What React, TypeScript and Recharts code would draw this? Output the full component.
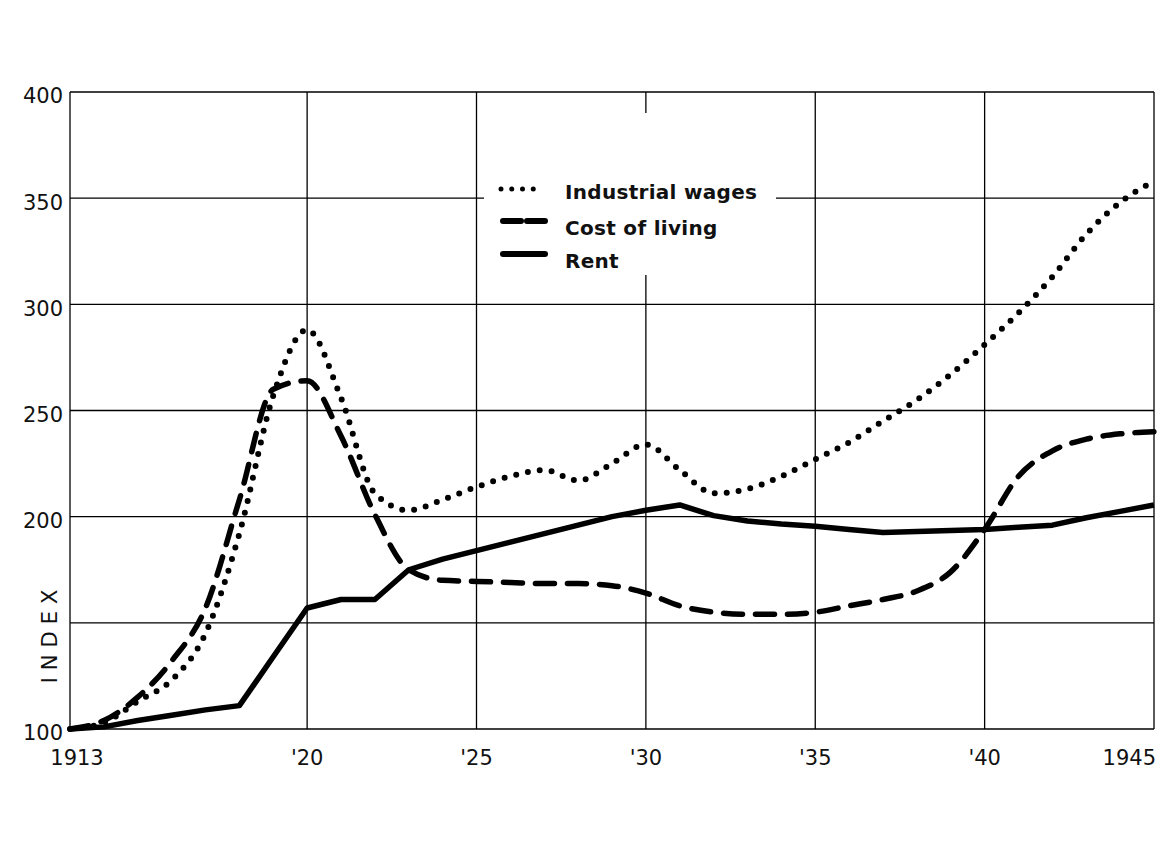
import React from 'react';
import { LineChart, Line, XAxis, YAxis, CartesianGrid, Legend } from 'recharts';

const years = [
  1913, 1914, 1915, 1916, 1917, 1918, 1919, 1920, 1921, 1922, 1923, 1924, 1925, 1926, 1927, 1928, 1929,
  1930, 1931, 1932, 1933, 1934, 1935, 1936, 1937, 1938, 1939, 1940, 1941, 1942, 1943, 1944, 1945,
];

const industrialWages = [
  100, 103, 113, 123, 145, 192, 257, 288, 256, 211, 203, 208, 214, 219, 222, 217, 225,
  234, 222, 211, 213, 219, 227, 235, 245, 255, 267, 281, 296, 313, 333, 348, 358,
];

const costOfLiving = [
  100, 104, 115, 132, 157, 208, 260, 264, 238, 201, 175, 170, 169.5, 169, 168.5, 168.5, 167.5,
  164, 158, 155, 154, 154, 155, 158, 161, 165, 174, 194, 219, 231, 236.5, 239, 240,
];

const rent = [
  100, 101, 104, 106.5, 109, 111, 134, 157, 161, 161, 175, 180, 184, 188, 192, 196, 200,
  203, 205.5, 200.5, 198, 196.5, 195.5, 194, 192.5, 193, 193.5, 194, 195, 196, 199.5, 202.5, 205.5,
];

const xTicks = [1913, 1920, 1925, 1930, 1935, 1940, 1945];
const xTickLabels = ['1913', "'20", "'25", "'30", "'35", "'40", '1945'];
const yTicks = [100, 150, 200, 250, 300, 350, 400];
// the 150 line carries no number, the axis title sits there instead
const yTickLabels = ['100', '', '200', '250', '300', '350', '400'];

const seriesNames = ['Industrial wages', 'Cost of living', 'Rent'];

const data = years.map((year, i) => ({
  year,
  wages: industrialWages[i],
  living: costOfLiving[i],
  rent: rent[i],
}));

const FONT = '"DejaVu Sans", sans-serif';

function XTick({ x, y, payload }: any) {
  const idx = xTicks.indexOf(payload.value);
  let dx = 0;
  let anchor: any = 'middle';
  if (idx === 0) dx = 7;
  if (idx === xTicks.length - 1) {
    dx = 2;
    anchor = 'end';
  }
  return (
    <text x={x + dx} y={y + 28} textAnchor={anchor} fontFamily={FONT} fontSize={21} fill="#111">
      {xTickLabels[idx]}
    </text>
  );
}

function LegendBox() {
  const sampleY = [76, 108, 141];
  const textY = [79, 115, 148];
  return (
    <div style={{ position: 'relative', width: 292, height: 162, background: '#fff' }}>
      <svg width={70} height={162} style={{ position: 'absolute', left: 0, top: 0 }}>
        <line x1={17} y1={sampleY[0]} x2={60} y2={sampleY[0]} stroke="#000" strokeWidth={5} strokeLinecap="round" strokeDasharray="0 10.75" />
        <line x1={19} y1={sampleY[1]} x2={62} y2={sampleY[1]} stroke="#000" strokeWidth={6} strokeLinecap="round" strokeDasharray="18 6" />
        <line x1={19} y1={sampleY[2]} x2={61} y2={sampleY[2]} stroke="#000" strokeWidth={6} strokeLinecap="round" />
      </svg>
      {seriesNames.map((name, i) => (
        <div
          key={name}
          style={{
            position: 'absolute',
            left: 81,
            top: textY[i] - 12,
            height: 24,
            lineHeight: '24px',
            fontFamily: FONT,
            fontWeight: 'bold',
            fontSize: 20,
            letterSpacing: 0.3,
            color: '#111',
            whiteSpace: 'nowrap',
          }}
        >
          {name}
        </div>
      ))}
    </div>
  );
}

export default function App() {
  return (
    <div style={{ position: 'absolute', left: 0, top: 0, width: 1168, height: 848, background: '#fff' }}>
      <LineChart width={1168} height={848} data={data} margin={{ top: 92, right: 14, left: 10, bottom: 79 }}>
        <CartesianGrid stroke="#000" strokeWidth={1.3} />
        <XAxis
          dataKey="year"
          type="number"
          domain={[1913, 1945]}
          ticks={xTicks}
          interval={0}
          axisLine={false}
          tickLine={false}
          height={40}
          tick={<XTick />}
        />
        <YAxis
          type="number"
          domain={[100, 400]}
          ticks={yTicks}
          interval={0}
          axisLine={false}
          tickLine={false}
          tickSize={0}
          tickMargin={7}
          width={60}
          tickFormatter={(v) => yTickLabels[yTicks.indexOf(v)]}
          tick={{ fontFamily: FONT, fontSize: 21, fill: '#111', dy: 4 }}
          label={{
            content: () => (
              <text
                x={0}
                y={0}
                transform="translate(50,633) rotate(-90)"
                textAnchor="middle"
                dominantBaseline="central"
                fontFamily={FONT}
                fontSize={21}
                letterSpacing={7}
                fill="#111"
              >
                INDEX
              </text>
            ),
          }}
        />
        <Legend
          layout="horizontal"
          verticalAlign="middle"
          content={<LegendBox />}
          wrapperStyle={{ left: 484, top: 113, width: 292, height: 162 }}
        />
        <Line
          type="monotone"
          dataKey="wages"
          name={seriesNames[0]}
          stroke="#000"
          strokeWidth={6}
          strokeLinecap="round"
          strokeDasharray="0 12"
          dot={false}
          isAnimationActive={false}
        />
        <Line
          type="monotone"
          dataKey="living"
          name={seriesNames[1]}
          stroke="#000"
          strokeWidth={5.5}
          strokeLinecap="round"
          strokeDasharray="19 13"
          dot={false}
          isAnimationActive={false}
        />
        <Line
          type="linear"
          dataKey="rent"
          name={seriesNames[2]}
          stroke="#000"
          strokeWidth={5.5}
          strokeLinejoin="round"
          dot={false}
          isAnimationActive={false}
        />
      </LineChart>
    </div>
  );
}
